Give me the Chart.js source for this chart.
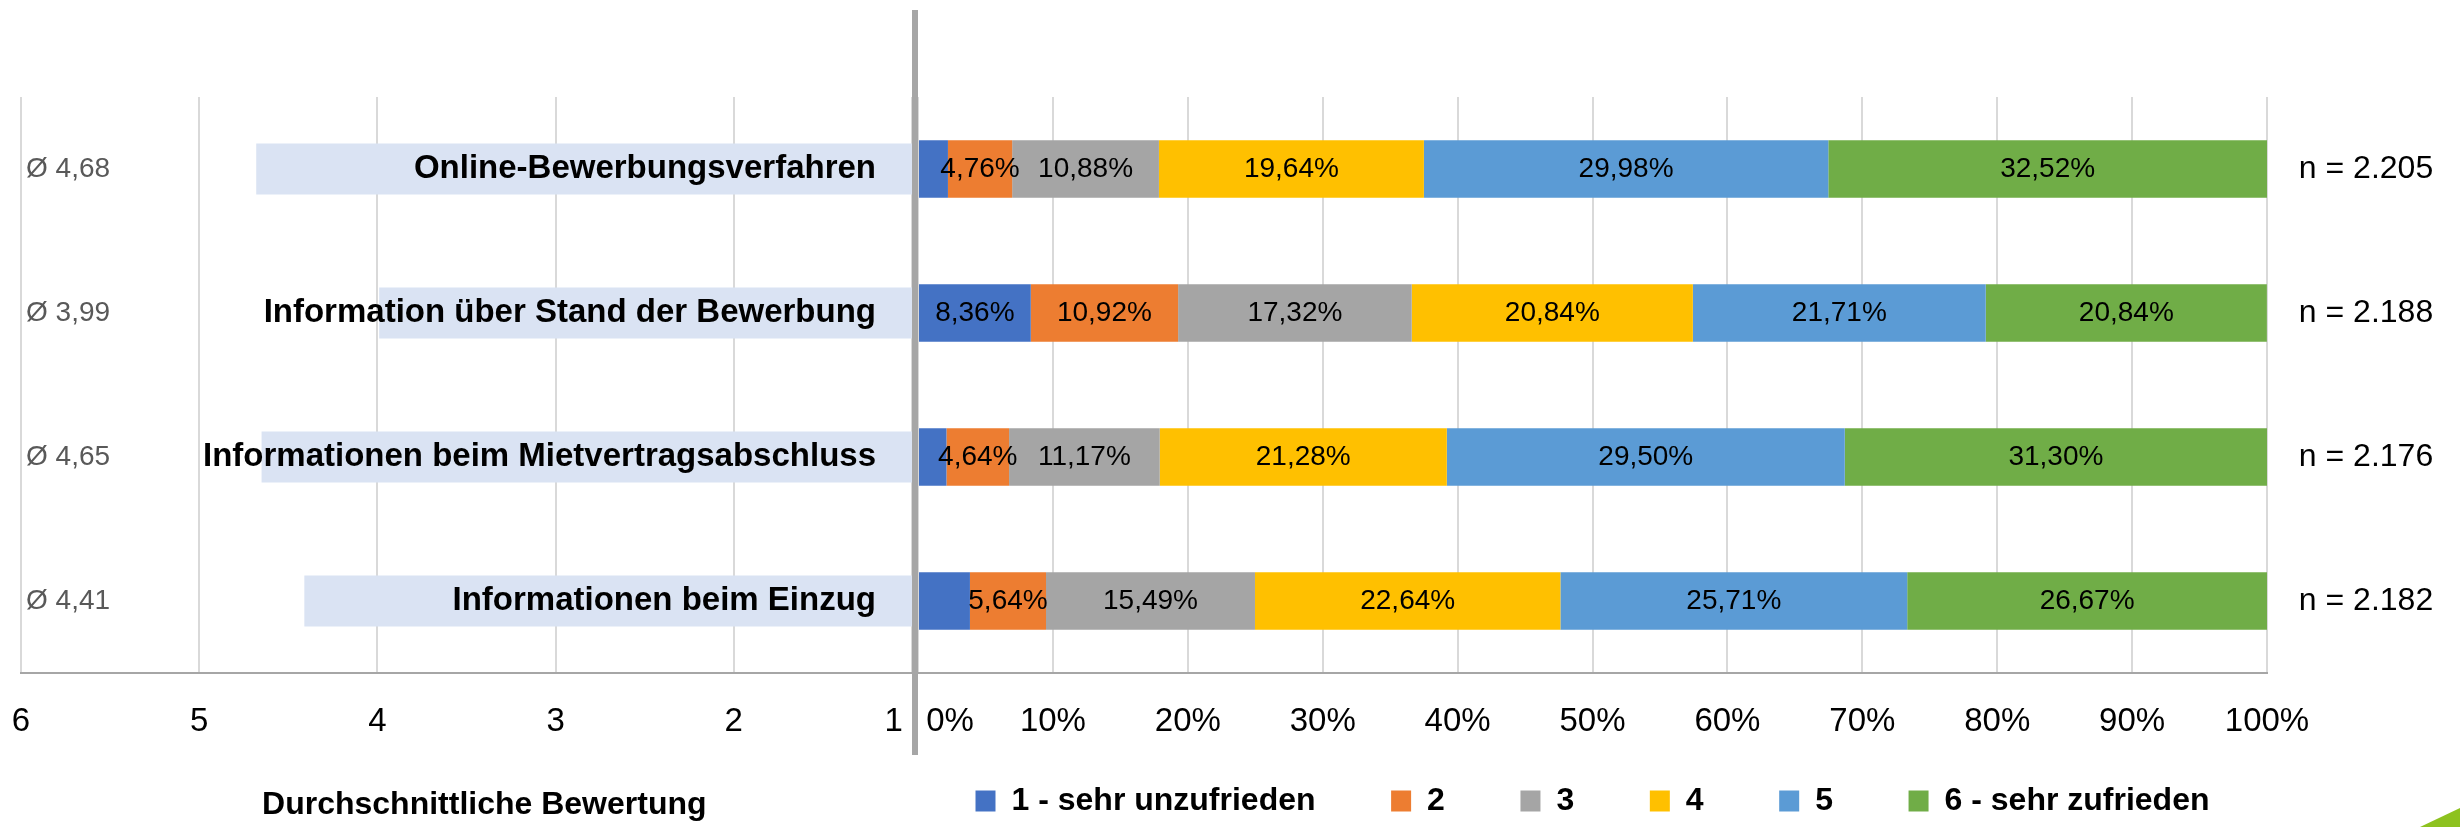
<!DOCTYPE html>
<html>
<head>
<meta charset="utf-8">
<script src="https://cdn.jsdelivr.net/npm/chart.js"></script>
<style>
  html, body { margin: 0; padding: 0; background: #fff; }
  #wrap { position: relative; width: 2460px; height: 827px; overflow: hidden; }
  #avgChart { position: absolute; left: 0; top: 0; }
  #shareChart { position: absolute; left: 913px; top: 0; }
  #divider { position: absolute; left: 912px; top: 10px; width: 6px; height: 745px; background: #a6a6a6; }
  #corner { position: absolute; left: 2420px; top: 808px; width: 40px; height: 19px;
            background: #8dc21f; clip-path: polygon(0 100%, 100% 0, 100% 100%); }
</style>
</head>
<body>
<div id="wrap">
  <canvas id="avgChart" width="913" height="827"></canvas>
  <canvas id="shareChart" width="1547" height="827"></canvas>
  <div id="divider"></div>
  <div id="corner"></div>
</div>
<script>
// data
const categories = [
    'Online-Bewerbungsverfahren',
    'Information über Stand der Bewerbung',
    'Informationen beim Mietvertragsabschluss',
    'Informationen beim Einzug'
];
const averages = [4.68, 3.99, 4.65, 4.41];
const sampleSizes = [2205, 2188, 2176, 2182];

const ratingLabels = ['1 - sehr unzufrieden', '2', '3', '4', '5', '6 - sehr zufrieden'];
const rating1 = [2.22, 8.36, 2.11, 3.85];
const rating2 = [4.76, 10.92, 4.64, 5.64];
const rating3 = [10.88, 17.32, 11.17, 15.49];
const rating4 = [19.64, 20.84, 21.28, 22.64];
const rating5 = [29.98, 21.71, 29.50, 25.71];
const rating6 = [32.52, 20.84, 31.30, 26.67];
const ratingColors = ['#4472C4', '#ED7D31', '#A5A5A5', '#FFC000', '#5B9BD5', '#70AD47'];

const avgTicks = [6, 5, 4, 3, 2, 1];
const pctTicks = [0, 10, 20, 30, 40, 50, 60, 70, 80, 90, 100];

const FONT = '"Liberation Sans", Arial, sans-serif';
Chart.defaults.font.family = FONT;
Chart.defaults.color = '#000';

const comma = (v) => v.toFixed(2).replace('.', ',');
const thousands = (n) => String(n).replace(/\B(?=(\d{3})+(?!\d))/g, '.');

// no extra side padding for the first/last tick label
const noSidePadding = (s, h) => {
    s.height = h;
    s.paddingLeft = 0;
    s.paddingRight = 0;
};

// labels on the left (category names + averages)
const leftLabels = {
    id: 'leftLabels',
    afterDatasetsDraw(chart) {
        const {ctx, chartArea} = chart;
        ctx.save();
        ctx.textBaseline = 'middle';
        chart.getDatasetMeta(0).data.forEach((bar, i) => {
            ctx.font = 'bold 33px ' + FONT;
            ctx.fillStyle = '#000';
            ctx.textAlign = 'right';
            ctx.fillText(categories[i], chartArea.right - 36, bar.y);
            ctx.font = '28px ' + FONT;
            ctx.fillStyle = '#595959';
            ctx.textAlign = 'left';
            ctx.fillText('Ø ' + comma(averages[i]), chartArea.left + 5, bar.y);
        });
        ctx.restore();
    }
};

// percentages inside the segments + n on the right
const shareLabels = {
    id: 'shareLabels',
    afterDatasetsDraw(chart) {
        const {ctx, chartArea} = chart;
        ctx.save();
        ctx.textAlign = 'center';
        ctx.textBaseline = 'middle';
        ctx.fillStyle = '#000';
        ctx.font = '28px ' + FONT;
        chart.data.datasets.forEach((ds, d) => {
            chart.getDatasetMeta(d).data.forEach((bar, i) => {
                if (ds.data[i] < 4) return;
                const c = bar.getCenterPoint();
                ctx.fillText(comma(ds.data[i]) + '%', c.x, c.y);
            });
        });
        ctx.font = '32px ' + FONT;
        chart.getDatasetMeta(0).data.forEach((bar, i) => {
            ctx.fillText('n = ' + thousands(sampleSizes[i]), chartArea.right + 99, bar.y);
        });
        ctx.restore();
    }
};

// Average chart (left)
new Chart(document.getElementById('avgChart'), {
    type: 'bar',
    data: {
        labels: categories,
        datasets: [{
            label: 'Durchschnitt',
            data: averages,
            backgroundColor: '#DAE3F3',
            borderWidth: 0,
            categoryPercentage: 1,
            barPercentage: 0.355
        }]
    },
    options: {
        indexAxis: 'y',
        responsive: false,
        animation: false,
        devicePixelRatio: 1,
        layout: { padding: { left: 21, right: 1, top: 97, bottom: 0 } },
        plugins: { legend: { display: false }, tooltip: { enabled: false } },
        scales: {
            x: {
                reverse: true,
                min: 1,
                max: 6,
                afterBuildTicks: (s) => { s.ticks = avgTicks.map(v => ({ value: v })); },
                afterFit: (s) => noSidePadding(s, 154),
                grid: { color: '#D9D9D9', lineWidth: 2, drawTicks: false },
                border: { color: '#A6A6A6', width: 2 },
                ticks: {
                    padding: 29,
                    font: { size: 33 },
                    color: '#000',
                    // the label next to the divider sits a bit to the left
                    callback: (v) => (v === 1 ? '1    ' : String(v))
                },
                title: {
                    display: true,
                    text: '    Durchschnittliche Bewertung',
                    font: { size: 32, weight: 'bold' },
                    color: '#000',
                    padding: { top: 0, bottom: 3 }
                }
            },
            y: { display: false }
        }
    },
    plugins: [leftLabels]
});

// Distribution chart (right)
const ratingData = [rating1, rating2, rating3, rating4, rating5, rating6];
new Chart(document.getElementById('shareChart'), {
    type: 'bar',
    data: {
        labels: categories,
        datasets: ratingLabels.map((lbl, k) => ({
            label: lbl,
            data: ratingData[k],
            backgroundColor: ratingColors[k],
            borderWidth: 0,
            categoryPercentage: 1,
            barPercentage: 0.40
        }))
    },
    options: {
        indexAxis: 'y',
        responsive: false,
        animation: false,
        devicePixelRatio: 1,
        layout: { padding: { left: 5, right: 193, top: 97, bottom: 0 } },
        plugins: {
            tooltip: { enabled: false },
            legend: {
                position: 'bottom',
                fullSize: false,
                labels: {
                    boxWidth: 20,
                    boxHeight: 21,
                    padding: 40,
                    color: '#000',
                    font: { size: 32, weight: 'bold' },
                    // wider gaps between entries than the vertical padding allows
                    generateLabels: (chart) => Chart.defaults.plugins.legend.labels.generateLabels(chart)
                        .map((item, i, all) => (i < all.length - 1 ? { ...item, text: item.text + '    ' } : item))
                }
            }
        },
        scales: {
            x: {
                stacked: true,
                min: 0,
                max: 100,
                afterBuildTicks: (s) => { s.ticks = pctTicks.map(v => ({ value: v })); },
                afterFit: (s) => noSidePadding(s, 72),
                grid: { color: '#D9D9D9', lineWidth: 2, drawTicks: false },
                border: { color: '#A6A6A6', width: 2 },
                ticks: {
                    padding: 29,
                    font: { size: 33 },
                    color: '#000',
                    callback: (v) => (v === 0 ? '       0%' : v + '%')
                }
            },
            y: { stacked: true, display: false }
        }
    },
    plugins: [shareLabels]
});
</script>
</body>
</html>
